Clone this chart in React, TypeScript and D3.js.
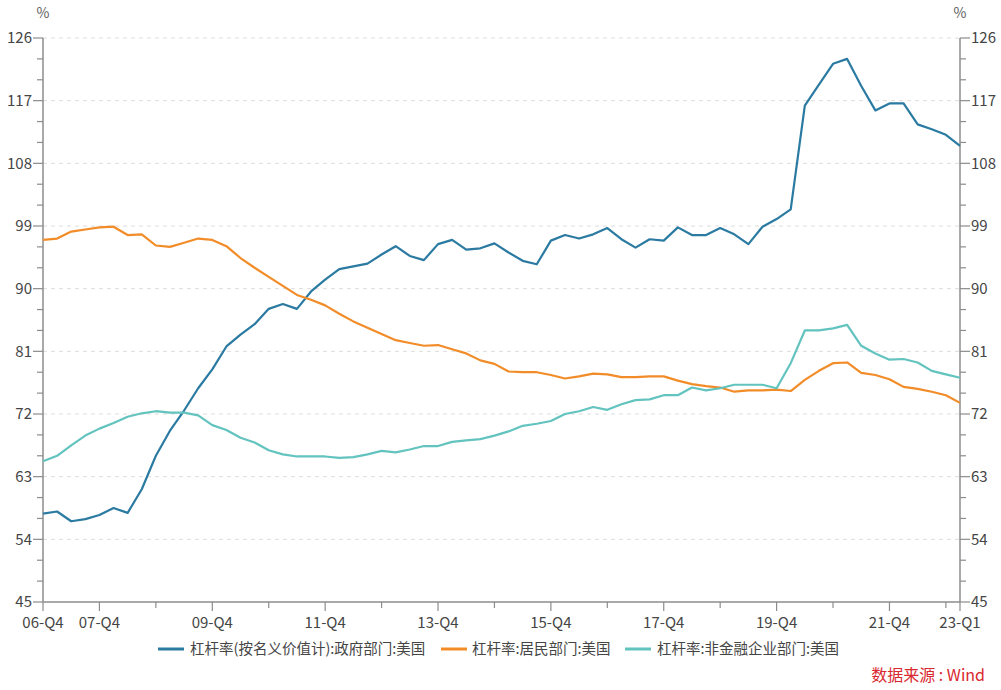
import React from "react";
import * as d3 from "d3";

const startYear = 2006;
const startQuarter = 4;

const gov = [
  57.7, 58.0, 56.6, 56.9, 57.5, 58.5, 57.8, 61.2, 66.0, 69.6, 72.5, 75.7, 78.4, 81.7, 83.4, 84.9,
  87.1, 87.8, 87.1, 89.6, 91.3, 92.8, 93.2, 93.6, 94.9, 96.1, 94.7, 94.1, 96.4, 97.0, 95.6, 95.8,
  96.5, 95.2, 94.0, 93.5, 96.9, 97.7, 97.2, 97.8, 98.7, 97.1, 95.9, 97.1, 96.9, 98.8, 97.7, 97.7,
  98.7, 97.8, 96.4, 98.9, 100.0, 101.4, 116.3, 119.3, 122.3, 123.0, 119.1, 115.6, 116.6, 116.6,
  113.6, 112.9, 112.1, 110.5,
];

const household = [
  97.0, 97.2, 98.2, 98.5, 98.8, 98.9, 97.7, 97.8, 96.2, 96.0, 96.6, 97.2, 97.0, 96.1, 94.4, 93.0,
  91.7, 90.4, 89.1, 88.4, 87.6, 86.4, 85.3, 84.4, 83.5, 82.6, 82.2, 81.8, 81.9, 81.3, 80.7, 79.7,
  79.2, 78.1, 78.0, 78.0, 77.6, 77.1, 77.4, 77.8, 77.7, 77.3, 77.3, 77.4, 77.4, 76.8, 76.3, 76.0,
  75.8, 75.2, 75.4, 75.4, 75.5, 75.3, 76.9, 78.2, 79.3, 79.4, 77.9, 77.6, 77.0, 75.9, 75.6, 75.2,
  74.7, 73.6,
];

const corp = [
  65.2, 66.0, 67.5, 68.9, 69.9, 70.7, 71.6, 72.1, 72.4, 72.2, 72.2, 71.8, 70.4, 69.7, 68.6, 67.9,
  66.8, 66.2, 65.9, 65.9, 65.9, 65.7, 65.8, 66.2, 66.7, 66.5, 66.9, 67.4, 67.4, 68.0, 68.2, 68.4,
  68.9, 69.5, 70.3, 70.6, 71.0, 72.0, 72.4, 73.0, 72.6, 73.4, 74.0, 74.1, 74.7, 74.7, 75.8, 75.4,
  75.7, 76.2, 76.2, 76.2, 75.7, 79.3, 84.0, 84.0, 84.3, 84.8, 81.8, 80.7, 79.8, 79.9, 79.4, 78.2,
  77.7, 77.2,
];

const tickLabels = ["06-Q4", "07-Q4", "09-Q4", "11-Q4", "13-Q4", "15-Q4", "17-Q4", "19-Q4", "21-Q4", "23-Q1"];
const yMajorTicks = [45, 54, 63, 72, 81, 90, 99, 108, 117, 126];
const seriesNames = ["杠杆率(按名义价值计):政府部门:美国", "杠杆率:居民部门:美国", "杠杆率:非金融企业部门:美国"];
const seriesColors = ["#2a7aa1", "#f28c28", "#62c3bf"];
const sourceText = "数据来源 : Wind";
const unitText = "%";

const FONT = "'Microsoft YaHei','Noto Sans CJK SC','Noto Sans',sans-serif";

function quarterLabel(i: number): string {
  const q0 = startQuarter - 1 + i;
  const y = startYear + Math.floor(q0 / 4);
  const q = (q0 % 4) + 1;
  return `${String(y % 100).padStart(2, "0")}-Q${q}`;
}

export default function App() {
  const W = 1001;
  const H = 690;
  const left = 43;
  const right = 960;
  const top = 38;
  const bottom = 602;
  const n = gov.length;

  const x = d3.scaleLinear().domain([0, n - 1]).range([left, right]);
  const y = d3.scaleLinear().domain([45, 126]).range([bottom, top]);

  const series = [gov, household, corp];
  const line = d3
    .line<number>()
    .x((_, i) => x(i))
    .y((d) => y(d));

  const minorTicks = d3.range(45, 126.001, 3);
  const xTickIdx: number[] = [];
  for (let i = 0; i < n; i += 4) xTickIdx.push(i);
  if (xTickIdx[xTickIdx.length - 1] !== n - 1) xTickIdx.push(n - 1);

  const axisColor = "#8c8c8c";
  const textColor = "#454545";

  const legendItems = [
    { lx: 158, tx: 190 },
    { lx: 441, tx: 472 },
    { lx: 625, tx: 657 },
  ];

  return (
    <svg
      width={W}
      height={H}
      style={{ position: "absolute", left: 0, top: 0, background: "#fff" }}
      fontFamily={FONT}
    >
      <rect x={0} y={0} width={W} height={H} fill="#fff" />
      {yMajorTicks.slice(1).map((t) => (
        <line
          key={"g" + t}
          x1={left}
          x2={right}
          y1={y(t)}
          y2={y(t)}
          stroke="#dcdcdc"
          strokeWidth={1}
          strokeDasharray="4,4"
        />
      ))}
      <line x1={left} x2={left} y1={top} y2={bottom} stroke={axisColor} strokeWidth={1.5} />
      <line x1={right} x2={right} y1={top} y2={bottom} stroke={axisColor} strokeWidth={1.5} />
      {minorTicks.map((t) => {
        const major = yMajorTicks.includes(t);
        const len = major ? 10 : 6;
        return (
          <g key={"t" + t}>
            <line x1={left - len} x2={left} y1={y(t)} y2={y(t)} stroke={axisColor} strokeWidth={1.2} />
            <line x1={right} x2={right + len} y1={y(t)} y2={y(t)} stroke={axisColor} strokeWidth={1.2} />
          </g>
        );
      })}
      {yMajorTicks.map((t) => (
        <g key={"l" + t}>
          <text x={left - 11} y={y(t)} dy="0.35em" textAnchor="end" fontSize={15} fill={textColor}>
            {t}
          </text>
          <text x={right + 11} y={y(t)} dy="0.35em" textAnchor="start" fontSize={15} fill={textColor}>
            {t}
          </text>
        </g>
      ))}
      <text x={left} y={18} textAnchor="middle" fontSize={14} fill="#606060">
        {unitText}
      </text>
      <text x={right} y={18} textAnchor="middle" fontSize={14} fill="#606060">
        {unitText}
      </text>
      <line x1={left} x2={right} y1={bottom} y2={bottom} stroke={axisColor} strokeWidth={1.5} />
      {xTickIdx.map((i) => {
        const lab = quarterLabel(i);
        const labeled = tickLabels.includes(lab);
        return (
          <g key={"x" + i}>
            <line
              x1={x(i)}
              x2={x(i)}
              y1={bottom}
              y2={bottom + (labeled ? 9 : 6)}
              stroke={axisColor}
              strokeWidth={1.2}
            />
            {labeled && (
              <text x={x(i)} y={bottom + 26} textAnchor="middle" fontSize={15} fill={textColor}>
                {lab}
              </text>
            )}
          </g>
        );
      })}
      {series.map((s, k) => (
        <path
          key={"s" + k}
          d={line(s) || ""}
          fill="none"
          stroke={seriesColors[k]}
          strokeWidth={2.2}
          strokeLinejoin="round"
        />
      ))}
      {legendItems.map((it, k) => (
        <g key={"lg" + k}>
          <line x1={it.lx} x2={it.lx + 26} y1={649} y2={649} stroke={seriesColors[k]} strokeWidth={3} />
          <text x={it.tx} y={649} dy="0.35em" fontSize={14.5} fill={textColor}>
            {seriesNames[k]}
          </text>
        </g>
      ))}
      <text x={985} y={681} textAnchor="end" fontSize={16} fill="#d9282f">
        {sourceText}
      </text>
    </svg>
  );
}
